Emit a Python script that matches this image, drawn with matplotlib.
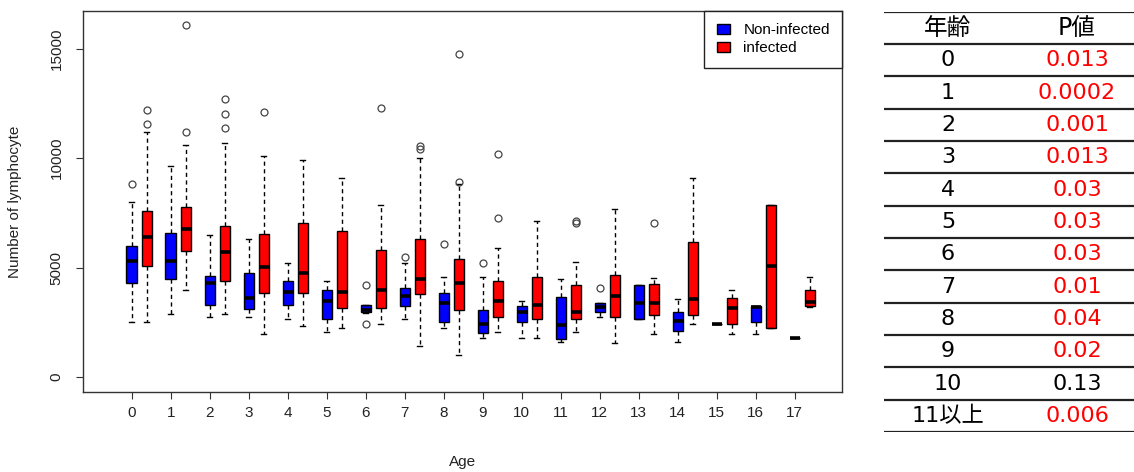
import matplotlib
matplotlib.use("Agg")
import matplotlib.pyplot as plt
from matplotlib.patches import Patch

plt.rcParams['font.family'] = ['Liberation Sans', 'DejaVu Sans']

ages = list(range(18))

# non-infected, summary stats
non_lo = [2500, 2896, 2758, 2758, 2652, 2042, 2926, 2637, 2226, 1798, 1798, 1615, 2758, 2637, 1615, 2423, 1950, 1798]
non_q1 = [4283, 4481, 3308, 3109, 3277, 2637, 2957, 3231, 2530, 2027, 2500, 1738, 2972, 2637, 2118, 2423, 2530, 1798]
non_med = [5304, 5304, 4298, 3597, 3871, 3490, 3079, 3704, 3399, 2423, 2957, 2362, 3216, 3399, 2560, 2423, 3185, 1798]
non_q3 = [6004, 6568, 4633, 4770, 4390, 3978, 3292, 4069, 3825, 3063, 3231, 3643, 3399, 4207, 2972, 2423, 3246, 1798]
non_hi = [8016, 9663, 6508, 6294, 5198, 4390, 3292, 5198, 4587, 4587, 3490, 4496, 3399, 4207, 3567, 2423, 3246, 1798]
non_out = [[8825], [], [], [], [], [], [4207, 2408], [5487], [6096], [5198], [], [], [4054], [], [], [], [], []]

# infected
inf_lo = [2500, 3978, 2896, 1950, 2332, 2226, 2423, 1433, 991, 2042, 1798, 2042, 1539, 1950, 2423, 1950, 2226, 3185]
inf_q1 = [5090, 5761, 4390, 3857, 3857, 3170, 3170, 3780, 3063, 2743, 2637, 2637, 2728, 2835, 2835, 2423, 2226, 3262]
inf_med = [6387, 6767, 5731, 5015, 4770, 3871, 3978, 4496, 4298, 3490, 3277, 2972, 3688, 3399, 3551, 3170, 5075, 3414]
inf_q3 = [7590, 7773, 6904, 6523, 7056, 6675, 5823, 6294, 5395, 4390, 4587, 4207, 4664, 4252, 6188, 3597, 7865, 3978]
inf_hi = [11203, 10608, 10684, 10120, 9922, 9084, 7865, 10014, 8810, 5898, 7148, 5273, 7667, 4511, 9084, 3978, 7865, 4587]
inf_out = [[12208, 11583], [16095, 11203], [12727, 12010, 11400], [12101], [], [], [12300], [10400, 10550],
           [14753, 8916], [10196, 7285], [], [7050, 7150], [], [7056], [], [], [], []]

# p-value table
tbl_age = ['0', '1', '2', '3', '4', '5', '6', '7', '8', '9', '10', '11以上']
tbl_p = ['0.013', '0.0002', '0.001', '0.013', '0.03', '0.03', '0.03', '0.01', '0.04', '0.02', '0.13', '0.006']


def make_stats(lo, q1, med, q3, hi, out):
    return [dict(whislo=a, q1=b, med=c, q3=d, whishi=e, fliers=f)
            for a, b, c, d, e, f in zip(lo, q1, med, q3, hi, out)]


fig = plt.figure(figsize=(11.34, 4.72), dpi=100)
ax = fig.add_axes([0.0732, 0.1695, 0.6693, 0.8072])

common = dict(widths=0.27, capwidths=0.12, patch_artist=True, manage_ticks=False,
              medianprops=dict(color='black', linewidth=2.6, solid_capstyle='butt'),
              whiskerprops=dict(color='black', linewidth=1, linestyle=(0, (3, 2.5))),
              capprops=dict(color='black', linewidth=1),
              flierprops=dict(marker='o', markerfacecolor='none', markeredgecolor='#444444',
                              markersize=5, markeredgewidth=0.9))

ax.bxp(make_stats(non_lo, non_q1, non_med, non_q3, non_hi, non_out), positions=ages,
       boxprops=dict(facecolor='#0000FF', edgecolor='black', linewidth=1), **common)
ax.bxp(make_stats(inf_lo, inf_q1, inf_med, inf_q3, inf_hi, inf_out), positions=[a + 0.385 for a in ages],
       boxprops=dict(facecolor='#FF0000', edgecolor='black', linewidth=1), **common)

ax.set_xlim(-1.25, 18.21)
ax.set_ylim(-690, 16730)
ax.set_xticks(ages)
ax.set_xticklabels([str(a) for a in ages])
ax.set_yticks([0, 5000, 10000, 15000])
ax.tick_params(axis='both', labelsize=11, length=5, color='#333333', labelcolor='#222222')
ax.tick_params(axis='x', pad=5)
ax.tick_params(axis='y', pad=9, labelrotation=90)
for lbl in ax.get_yticklabels():
    lbl.set_va('center')
for sp in ax.spines.values():
    sp.set_color('#333333')
    sp.set_linewidth(1)

ax.set_xlabel('Age', fontsize=11, color='#222222')
ax.set_ylabel('Number of lymphocyte', fontsize=11, color='#222222')
ax.xaxis.set_label_coords(0.5, -0.165)
ax.yaxis.set_label_coords(-0.081, 0.5)

handles = [Patch(facecolor='#0000FF', edgecolor='black', label='Non-infected'),
           Patch(facecolor='#FF0000', edgecolor='black', label='infected')]
leg = ax.legend(handles=handles, loc='upper right', borderaxespad=0, fontsize=11,
                fancybox=False, framealpha=1, edgecolor='#222222',
                handlelength=0.9, handleheight=0.65, handletextpad=0.85,
                borderpad=0.8, labelspacing=0.28)
leg.get_frame().set_linewidth(1)

# table on the right
tx = fig.add_axes([0.7795, 0.0847, 0.2205, 0.8905])
tx.set_xlim(0, 1)
tx.set_ylim(len(tbl_age) + 1, 0)
tx.axis('off')
tfont = ['DejaVu Sans', 'Noto Sans CJK JP']
for k in range(len(tbl_age) + 2):
    tx.axhline(k, color='#222222', linewidth=1.6)
tx.text(0.256, 0.5, '年齢', ha='center', va='center', fontsize=17, family=tfont)
tx.text(0.772, 0.5, 'P値', ha='center', va='center', fontsize=17, family=tfont)
for i, (a, p) in enumerate(zip(tbl_age, tbl_p)):
    col = '#FF0000' if float(p) < 0.05 else 'black'
    tx.text(0.256, i + 1.5, a, ha='center', va='center', fontsize=16, family=tfont)
    tx.text(0.772, i + 1.5, p, ha='center', va='center', fontsize=16, family=tfont, color=col)

fig.savefig('out.png', dpi=100)
